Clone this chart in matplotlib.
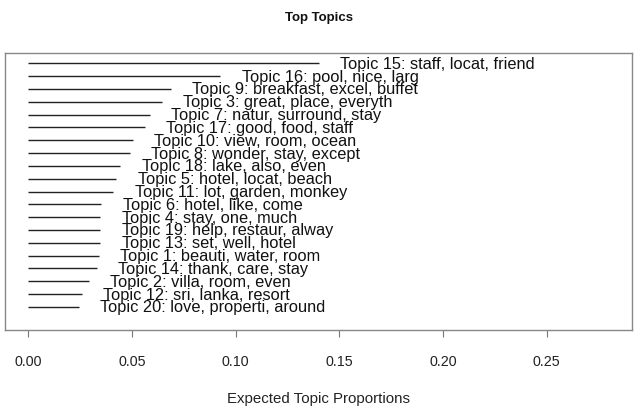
import matplotlib
matplotlib.use("Agg")
import matplotlib.pyplot as plt

plt.rcParams['font.family'] = ['Liberation Sans', 'DejaVu Sans']

# topics ordered from most to least common
topic_ids = [15, 16, 9, 3, 7, 17, 10, 8, 18, 5, 11, 6, 4, 19, 13, 1, 14, 2, 12, 20]
topic_words = [
    "staff, locat, friend", "pool, nice, larg", "breakfast, excel, buffet",
    "great, place, everyth", "natur, surround, stay", "good, food, staff",
    "view, room, ocean", "wonder, stay, except", "lake, also, even",
    "hotel, locat, beach", "lot, garden, monkey", "hotel, like, come",
    "stay, one, much", "help, restaur, alway", "set, well, hotel",
    "beauti, water, room", "thank, care, stay", "villa, room, even",
    "sri, lanka, resort", "love, properti, around",
]
proportions = [0.1400, 0.0926, 0.0687, 0.0644, 0.0587, 0.0563, 0.0506, 0.0490,
               0.0444, 0.0425, 0.0410, 0.0353, 0.0348, 0.0347, 0.0347, 0.0339,
               0.0330, 0.0291, 0.0258, 0.0243]
x_ticks = [0.00, 0.05, 0.10, 0.15, 0.20, 0.25]

fig = plt.figure(figsize=(6.34, 4.10), dpi=100)
ax = fig.add_axes([5 / 634, 79 / 410, 627 / 634, 277 / 410])

n = len(topic_ids)
for rank, (tid, words, p) in enumerate(zip(topic_ids, topic_words, proportions)):
    y = n - rank
    ax.plot([0, p], [y, y], color="#222222", lw=1.0, solid_capstyle="butt")
    ax.text(p + 0.0103, y, f"Topic {tid}: {words}", ha="left", va="center",
            fontsize=11.8, color="#111111")

xmax = 2 * max(proportions)
ext = 0.04 * xmax
ax.set_xlim(-ext, xmax + ext)
ax.set_ylim(-0.8, n + 0.8)

ax.set_yticks([])
ax.set_xticks(x_ticks)
ax.set_xticklabels([f"{t:.2f}" for t in x_ticks], fontsize=10.3, color="#222222")
ax.tick_params(axis="x", length=5, width=0.8, color="#777777", pad=12)
for s in ax.spines.values():
    s.set_color("#888888")
    s.set_linewidth(1.0)

ax.set_xlabel("Expected Topic Proportions", fontsize=10.8, color="#222222", labelpad=17)
fig.text(319 / 634, 1 - 18 / 410, "Top Topics", ha="center", va="center",
         fontsize=9.5, fontweight="bold", color="#111111")

fig.savefig("out.png", dpi=100)
